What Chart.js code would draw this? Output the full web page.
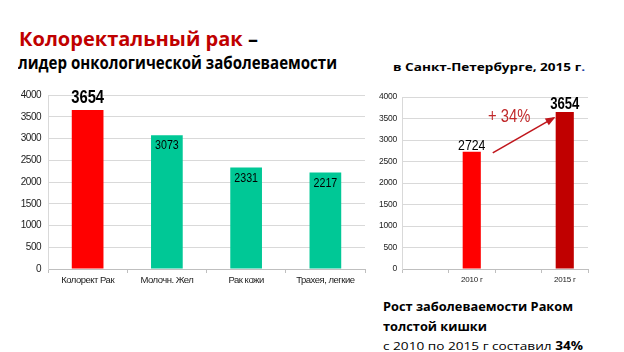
<!DOCTYPE html>
<html><head><meta charset="utf-8">
<script src="https://cdn.jsdelivr.net/npm/chart.js@4"></script>
<style>
html,body{margin:0;padding:0;background:#fff;}
body{width:624px;height:352px;position:relative;overflow:hidden;font-family:'Open Sans','Noto Sans',sans-serif;}
.t{position:absolute;white-space:nowrap;line-height:1.2;transform-origin:0 0;display:inline-block;top:0;}
canvas{position:absolute;}
</style></head><body>
<div class="t" id="t1" data-w="239" data-b="46" style="left:19px;font-size:19px;font-weight:700;color:#000;"><span style="color:#C00000">Колоректальный рак</span> –</div>
<div class="t" id="t2" data-w="319" data-b="69" style="left:18px;font-size:17px;font-weight:700;color:#000;">лидер онкологической заболеваемости</div>
<div class="t" id="t3" data-w="192" data-b="70.7" style="left:393px;font-size:11px;font-weight:700;color:#000;">в Санкт-Петербурге, 2015 г<span style="color:#1F3F9F">.</span></div>
<div class="t" id="b1" data-w="190" data-b="311" style="left:383px;font-size:11.5px;font-weight:700;color:#000;">Рост заболеваемости Раком</div>
<div class="t" id="b2" data-b="331" style="left:383px;font-size:11.5px;font-weight:700;color:#000;">толстой кишки</div>
<div class="t" id="b3" data-w="200" data-b="350" style="left:383px;font-size:11.5px;color:#000;">с 2010 по 2015 г составил <b>34%</b></div>
<canvas id="cL" width="372" height="215" style="left:0;top:80px;width:372px;height:215px"></canvas>
<canvas id="cR" width="252" height="215" style="left:372px;top:80px;width:252px;height:215px"></canvas>
<script>
// ---- data ----
const leftCategories = ['Колорект Рак', 'Молочн. Жел', 'Рак кожи', 'Трахея, легкие'];
const leftValues = [3654, 3073, 2331, 2217];
const rightCategories = ['', '2010 г', '', '2015 г'];
const rightValues = [null, 2724, null, 3654];
const yTicks = [0, 500, 1000, 1500, 2000, 2500, 3000, 3500, 4000];
const growthLabel = '+ 34%';

const FONT = "'Liberation Sans',Arial,sans-serif";

// place headings by baseline and fit widths
let scaleB1 = 1;
document.querySelectorAll('.t').forEach(el=>{
  const m = document.createElement('span');
  m.style.cssText = 'display:inline-block;width:0;height:0;vertical-align:baseline';
  el.appendChild(m);
  const off = m.offsetTop - el.offsetTop;
  el.style.top = (+el.dataset.b - off) + 'px';
  if (el.dataset.w) {
    const w = el.getBoundingClientRect().width;
    const s = (+el.dataset.w) / w;
    el.style.transform = 'scaleX(' + s + ')';
    if (el.id === 'b1') scaleB1 = s;
  }
});
document.getElementById('b2').style.transform = 'scaleX(' + scaleB1 + ')';

const labelPlugin = {
  id: 'vlabels',
  beforeDraw(chart, args, opts) {
    chart.ctx.letterSpacing = opts.spacing || '0px';
  },
  afterDatasetsDraw(chart, args, opts) {
    const ctx = chart.ctx;
    const meta = chart.getDatasetMeta(0);
    const data = chart.data.datasets[0].data;
    ctx.save();
    ctx.letterSpacing = '0px';
    ctx.textAlign = 'center';
    ctx.textBaseline = 'alphabetic';
    ctx.fillStyle = '#000';
    const sx = 0.82;
    meta.data.forEach((el, i) => {
      const v = data[i];
      if (v == null) return;
      const st = opts.styles[i];
      ctx.save();
      ctx.font = st.font;
      ctx.translate(el.x, el.y + st.dy);
      ctx.scale(sx, 1);
      ctx.fillText(String(v), 0, 0);
      ctx.restore();
    });
    if (opts.arrow) {
      const a = meta.data[opts.arrow.from], b = meta.data[opts.arrow.to];
      const x1 = a.x + 21, y1 = a.y + 1;
      const x2 = b.x - 11, y2 = b.y + 6;
      ctx.strokeStyle = '#C0161C';
      ctx.fillStyle = '#C0161C';
      ctx.lineWidth = 1.6;
      ctx.beginPath(); ctx.moveTo(x1, y1); ctx.lineTo(x2, y2); ctx.stroke();
      const ang = Math.atan2(y2 - y1, x2 - x1);
      const L = 8, W = 4;
      ctx.beginPath();
      ctx.moveTo(x2 + 2*Math.cos(ang), y2 + 2*Math.sin(ang));
      ctx.lineTo(x2 - L*Math.cos(ang) + W*Math.sin(ang), y2 - L*Math.sin(ang) - W*Math.cos(ang));
      ctx.lineTo(x2 - L*Math.cos(ang) - W*Math.sin(ang), y2 - L*Math.sin(ang) + W*Math.cos(ang));
      ctx.closePath(); ctx.fill();
      ctx.save();
      ctx.font = '18px ' + FONT;
      ctx.fillStyle = '#C0282A';
      ctx.translate((a.x + b.x)/2 - 9, b.y + 10);
      ctx.scale(sx, 1);
      ctx.fillText(opts.arrow.text, 0, 0);
      ctx.restore();
    }
    ctx.restore();
  }
};

function baseOpts(yw, xh, pad, yTickSize, xTickSize, yPad) {
  return {
    responsive: false,
    animation: false,
    events: [],
    layout: { padding: pad },
    plugins: { legend: { display: false }, tooltip: { enabled: false } },
    scales: {
      x: {
        grid: { drawOnChartArea: false, drawTicks: true, tickLength: 4, color: '#bfbfbf', offset: true },
        border: { color: '#bfbfbf' },
        ticks: { color: '#222', font: { family: FONT, size: xTickSize }, padding: 2, maxRotation: 0, autoSkip: false },
        afterFit(s) { s.height = xh; }
      },
      y: {
        min: 0, max: 4000,
        afterBuildTicks(s) { s.ticks = yTicks.map(v => ({ value: v })); },
        grid: { color: '#d9d9d9', drawTicks: false },
        border: { color: '#d9d9d9' },
        ticks: { color: '#222', font: { family: FONT, size: yTickSize }, padding: yPad, callback: v => String(v) },
        afterFit(s) { s.width = yw; }
      }
    }
  };
}

const oL = baseOpts(48, 26, { top: 15, right: 7, left: 0, bottom: 0 }, 10, 9.5, 7);
oL.plugins.vlabels = { spacing: '-0.5px', styles: [
  { font: 'bold 18px ' + FONT, dy: -7 },
  { font: '13px ' + FONT, dy: 14 },
  { font: '13px ' + FONT, dy: 14 },
  { font: '13px ' + FONT, dy: 14 }
]};
new Chart(document.getElementById('cL'), {
  type: 'bar',
  data: { labels: leftCategories, datasets: [{ data: leftValues,
    backgroundColor: ['#FF0000', '#00C896', '#00C896', '#00C896'],
    barPercentage: 0.4, categoryPercentage: 1 }] },
  options: oL,
  plugins: [labelPlugin]
});

const oR = baseOpts(30, 26, { top: 17, right: 36, left: 0, bottom: 0 }, 8.5, 8, 5);
oR.plugins.vlabels = { spacing: '-0.2px', styles: [
  null,
  { font: '15px ' + FONT, dy: -2 },
  null,
  { font: 'bold 16px ' + FONT, dy: -3 }
], arrow: { from: 1, to: 3, text: growthLabel } };
new Chart(document.getElementById('cR'), {
  type: 'bar',
  data: { labels: rightCategories, datasets: [{ data: rightValues,
    backgroundColor: ['#FF0000', '#FF0000', '#C00000', '#C00000'],
    barPercentage: 0.39, categoryPercentage: 1 }] },
  options: oR,
  plugins: [labelPlugin]
});
</script>
</body></html>
